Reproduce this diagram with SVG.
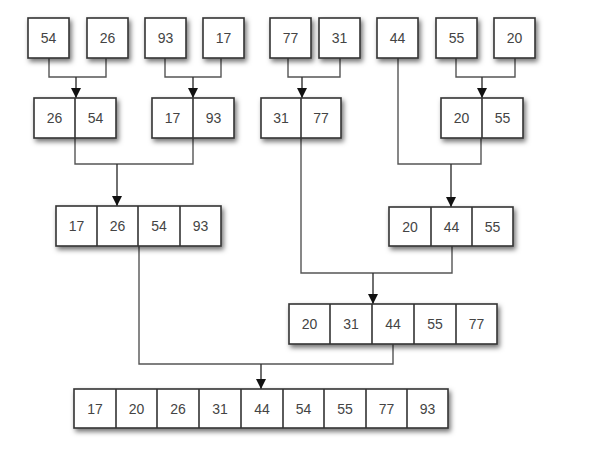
<svg xmlns="http://www.w3.org/2000/svg" width="590" height="452" viewBox="0 0 590 452">
<defs>
<filter id="sh" x="-20%" y="-20%" width="150%" height="160%">
<feDropShadow dx="2" dy="3" stdDeviation="2.5" flood-color="#000" flood-opacity="0.55"/>
</filter>
<marker id="ah" viewBox="0 0 10 10" refX="10" refY="5" markerWidth="10" markerHeight="10" markerUnits="userSpaceOnUse" orient="auto">
<path d="M0,0 L10,5 L0,10 z" fill="#111"/>
</marker>
<style>
.box{fill:#fff;stroke:#333;stroke-width:1.6}
.div{stroke:#333;stroke-width:1.6}
.t{font-family:"Liberation Sans",Arial,sans-serif;font-size:14px;fill:#444;text-anchor:middle;dominant-baseline:central}
.c{fill:none;stroke:#555;stroke-width:1.4}
.a{fill:none;stroke:#333;stroke-width:1.4;marker-end:url(#ah)}
</style>
</defs>
<rect width="590" height="452" fill="#fff"/>
<g id="connectors">
<path class="c" d="M49 58 V77 H106 V58"/>
<path class="a" d="M76 77 V98"/>
<path class="c" d="M165 58 V77 H221 V58"/>
<path class="a" d="M193 77 V98"/>
<path class="c" d="M288 58 V77 H340 V58"/>
<path class="a" d="M302 77 V98"/>
<path class="c" d="M456 58 V77 H515 V58"/>
<path class="a" d="M482 77 V98"/>
<path class="c" d="M75 138 V164 H193 V138"/>
<path class="a" d="M117 164 V206"/>
<path class="c" d="M398 58 V164 H481 V138"/>
<path class="a" d="M451 164 V207"/>
<path class="c" d="M301 138 V273 H452 V246"/>
<path class="a" d="M373 273 V304"/>
<path class="c" d="M139 246 V364 H393 V344"/>
<path class="a" d="M261 364 V389"/>
</g>
<g id="n54"><rect class="box" filter="url(#sh)" x="28" y="18" width="41" height="40"/><text class="t" x="48.5" y="38">54</text></g>
<g id="n26"><rect class="box" filter="url(#sh)" x="87" y="18" width="41" height="40"/><text class="t" x="107.5" y="38">26</text></g>
<g id="n93"><rect class="box" filter="url(#sh)" x="145" y="18" width="41" height="40"/><text class="t" x="165.5" y="38">93</text></g>
<g id="n17"><rect class="box" filter="url(#sh)" x="203" y="18" width="41" height="40"/><text class="t" x="223.5" y="38">17</text></g>
<g id="n77"><rect class="box" filter="url(#sh)" x="270" y="18" width="41" height="40"/><text class="t" x="290.5" y="38">77</text></g>
<g id="n31"><rect class="box" filter="url(#sh)" x="319" y="18" width="41" height="40"/><text class="t" x="339.5" y="38">31</text></g>
<g id="n44"><rect class="box" filter="url(#sh)" x="377" y="18" width="41" height="40"/><text class="t" x="397.5" y="38">44</text></g>
<g id="n55"><rect class="box" filter="url(#sh)" x="436" y="18" width="41" height="40"/><text class="t" x="456.5" y="38">55</text></g>
<g id="n20"><rect class="box" filter="url(#sh)" x="494" y="18" width="41" height="40"/><text class="t" x="514.5" y="38">20</text></g>

<g id="m2654"><rect class="box" filter="url(#sh)" x="34" y="98" width="82" height="40"/><line class="div" x1="75" y1="98" x2="75" y2="138"/><text class="t" x="54.5" y="118">26</text><text class="t" x="95.5" y="118">54</text></g>
<g id="m1793"><rect class="box" filter="url(#sh)" x="152" y="98" width="82" height="40"/><line class="div" x1="193" y1="98" x2="193" y2="138"/><text class="t" x="172.5" y="118">17</text><text class="t" x="213.5" y="118">93</text></g>
<g id="m3177"><rect class="box" filter="url(#sh)" x="261" y="98" width="80" height="40"/><line class="div" x1="301" y1="98" x2="301" y2="138"/><text class="t" x="281" y="118">31</text><text class="t" x="321" y="118">77</text></g>
<g id="m2055"><rect class="box" filter="url(#sh)" x="441" y="98" width="82" height="40"/><line class="div" x1="482" y1="98" x2="482" y2="138"/><text class="t" x="461.5" y="118">20</text><text class="t" x="502.5" y="118">55</text></g>

<g id="m4left"><rect class="box" filter="url(#sh)" x="56" y="206" width="165" height="40"/><line class="div" x1="97" y1="206" x2="97" y2="246"/><line class="div" x1="138" y1="206" x2="138" y2="246"/><line class="div" x1="180" y1="206" x2="180" y2="246"/><text class="t" x="76.5" y="226">17</text><text class="t" x="117.5" y="226">26</text><text class="t" x="159" y="226">54</text><text class="t" x="200.5" y="226">93</text></g>
<g id="m3right"><rect class="box" filter="url(#sh)" x="389" y="207" width="124" height="39"/><line class="div" x1="431" y1="207" x2="431" y2="246"/><line class="div" x1="472" y1="207" x2="472" y2="246"/><text class="t" x="410" y="226.5">20</text><text class="t" x="451.5" y="226.5">44</text><text class="t" x="492.5" y="226.5">55</text></g>

<g id="m5"><rect class="box" filter="url(#sh)" x="289" y="304" width="208" height="40"/><line class="div" x1="330" y1="304" x2="330" y2="344"/><line class="div" x1="372" y1="304" x2="372" y2="344"/><line class="div" x1="414" y1="304" x2="414" y2="344"/><line class="div" x1="456" y1="304" x2="456" y2="344"/><text class="t" x="309.5" y="324">20</text><text class="t" x="351" y="324">31</text><text class="t" x="393" y="324">44</text><text class="t" x="435" y="324">55</text><text class="t" x="476.5" y="324">77</text></g>

<g id="m9"><rect class="box" filter="url(#sh)" x="74" y="389" width="374" height="39"/><line class="div" x1="116" y1="389" x2="116" y2="428"/><line class="div" x1="157" y1="389" x2="157" y2="428"/><line class="div" x1="199" y1="389" x2="199" y2="428"/><line class="div" x1="241" y1="389" x2="241" y2="428"/><line class="div" x1="283" y1="389" x2="283" y2="428"/><line class="div" x1="324" y1="389" x2="324" y2="428"/><line class="div" x1="366" y1="389" x2="366" y2="428"/><line class="div" x1="407" y1="389" x2="407" y2="428"/><text class="t" x="95" y="408.5">17</text><text class="t" x="136.5" y="408.5">20</text><text class="t" x="178" y="408.5">26</text><text class="t" x="220" y="408.5">31</text><text class="t" x="262" y="408.5">44</text><text class="t" x="303.5" y="408.5">54</text><text class="t" x="345" y="408.5">55</text><text class="t" x="386.5" y="408.5">77</text><text class="t" x="427.5" y="408.5">93</text></g>
</svg>
